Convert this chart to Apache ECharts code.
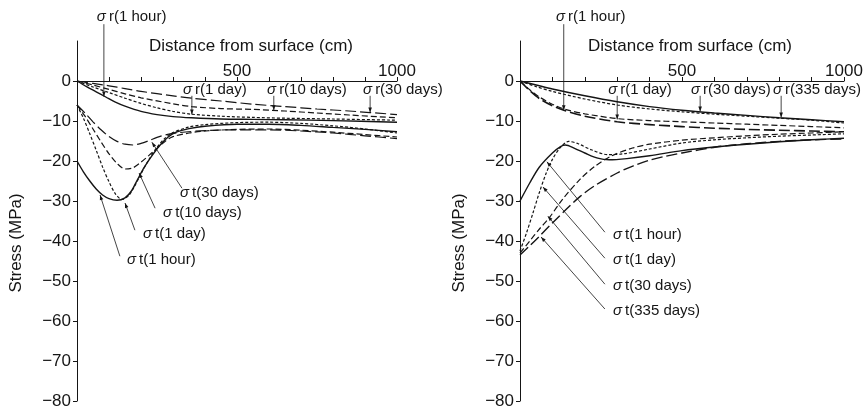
<!DOCTYPE html>
<html>
<head>
<meta charset="utf-8">
<script src="https://cdn.jsdelivr.net/npm/echarts@6/dist/echarts.min.js"></script>
<style>
  html, body { margin: 0; padding: 0; background: #fff; }
  #chart { width: 866px; height: 413px; }
</style>
</head>
<body>
<div id="chart"></div>
<script>
// ---- data: [distance (cm), stress (MPa)] ----
// left panel, radial stress
var leftR1h  = [[0,0],[30,-1.4],[60,-2.7],[90,-4],[120,-5.3],[150,-6.3],[200,-7.6],[250,-8.4],[300,-8.9],[358,-9.2],[450,-9.5],[550,-9.6],[650,-9.7],[800,-9.9],[1000,-10.3]];
var leftR1d  = [[0,0],[50,-1.5],[100,-2.9],[150,-4.3],[200,-5.6],[250,-6.7],[300,-7.6],[358,-8.3],[450,-8.8],[550,-9.1],[650,-9.3],[800,-9.5],[1000,-9.8]];
var leftR10d = [[0,0],[50,-1],[100,-2.1],[150,-3.2],[200,-4.2],[300,-5.7],[358,-6.4],[450,-6.9],[550,-7.1],[650,-7.5],[750,-8],[850,-8.5],[1000,-9.2]];
var leftR30d = [[0,0],[50,-0.6],[100,-1.2],[150,-1.9],[200,-2.6],[300,-3.7],[358,-4.3],[450,-5],[550,-5.8],[650,-6.4],[750,-7],[850,-7.5],[1000,-8.4]];
// left panel, tangential stress
var leftT1h  = [[0,-20],[20,-22.7],[40,-25],[60,-27],[80,-28.5],[100,-29.4],[125,-29.8],[150,-29.2],[170,-27.5],[190,-24.5],[210,-21.6],[235,-18.6],[260,-16],[285,-14],[310,-12.8],[350,-11.9],[400,-11.3],[500,-10.8],[600,-10.8],[700,-11.1],[800,-11.6],[900,-12.1],[1000,-12.7]];
var leftT1d  = [[0,-6],[20,-9.3],[40,-13.2],[60,-17.3],[80,-21.5],[100,-25.2],[120,-28.2],[140,-29.6],[160,-28.8],[180,-26.3],[200,-23.2],[225,-19.6],[250,-16.6],[275,-14.3],[300,-12.9],[350,-11.5],[400,-10.9],[500,-10.4],[600,-10.3],[700,-10.6],[800,-11.2],[900,-12],[1000,-13]];
var leftT10d = [[0,-6],[25,-8.8],[50,-12],[75,-15.2],[100,-18.2],[125,-20.6],[150,-22],[175,-21.7],[200,-20.3],[225,-18.6],[250,-16.8],[275,-15.1],[300,-13.9],[350,-13],[400,-12.5],[500,-12.1],[600,-12],[700,-12.3],[800,-12.8],[900,-13.4],[1000,-14]];
var leftT30d = [[0,-6],[25,-8],[50,-10.2],[75,-12.2],[100,-13.9],[125,-15.1],[150,-15.8],[175,-16],[200,-15.6],[225,-14.9],[250,-14.1],[280,-13.4],[320,-12.9],[400,-12.4],[500,-12.2],[600,-12.2],[700,-12.5],[800,-13],[900,-13.7],[1000,-14.4]];

// right panel, radial stress
var rightRTop1  = [[0,0],[50,-1],[100,-2],[200,-3.7],[300,-5.2],[400,-6.4],[500,-7.3],[600,-8],[700,-8.6],[800,-9.2],[900,-9.7],[1000,-10.2]];
var rightRTop2  = [[0,0],[50,-1.4],[100,-2.6],[200,-4.5],[300,-6],[400,-7],[500,-7.7],[600,-8.3],[700,-8.8],[800,-9.3],[900,-9.8],[1000,-10.5]];
var rightRLow1  = [[0,0],[30,-2.2],[60,-4],[100,-5.8],[140,-7.1],[200,-8.2],[300,-9.4],[400,-9.9],[500,-10.2],[600,-10.5],[700,-10.8],[800,-11.1],[900,-11.4],[1000,-11.7]];
var rightRLow2  = [[0,0],[30,-2.4],[60,-4.4],[100,-6.2],[135,-7.3],[200,-8.8],[300,-10.2],[400,-10.9],[500,-11.4],[600,-11.8],[700,-12.1],[800,-12.3],[900,-12.5],[1000,-12.7]];
// right panel, tangential stress
var rightT1h   = [[0,-30],[30,-25.5],[60,-21.5],[100,-18],[125,-16.4],[140,-16],[170,-16.9],[200,-18],[240,-19.3],[275,-19.7],[330,-19.4],[400,-18.7],[500,-17.4],[600,-16.5],[700,-15.8],[800,-15.2],[900,-14.7],[1000,-14.3]];
var rightT1d   = [[0,-42.5],[20,-38],[40,-33],[60,-27.8],[80,-23.2],[100,-19.6],[125,-16.6],[150,-15.1],[180,-15.7],[220,-17.2],[270,-18.4],[320,-18.2],[400,-17],[500,-15.5],[600,-14.7],[700,-14.2],[800,-13.8],[900,-13.5],[1000,-13.2]];
var rightT30d  = [[0,-43],[30,-40],[60,-37],[93,-33.9],[130,-29.7],[185,-24.6],[230,-21.4],[283,-18.7],[350,-16.7],[400,-15.8],[500,-14.8],[600,-14.2],[700,-13.7],[800,-13.3],[900,-13],[1000,-12.7]];
var rightT335d = [[0,-43.5],[30,-41.2],[60,-38.8],[100,-35.5],[150,-31.5],[185,-28.9],[230,-26.2],[300,-23],[350,-21.2],[400,-19.8],[450,-18.8],[500,-18],[605,-16.5],[700,-15.7],[800,-15.1],[900,-14.7],[1000,-14.5]];

var yTicks = [-80, -70, -60, -50, -40, -30, -20, -10, 0];
var xLabels = [500, 1000];

// annotations: [text, text x, text y, leader from x, y, leader to x, y]  (data units)
var leftNotes = [
  ['r(1 hour)',   62, 16,    84, 14.2,   84, -3.9],
  ['r(1 day)',   331, -2.25, 359, -3.7, 359, -8.4],
  ['r(10 days)', 594, -2.25, 615, -3.7, 615, -7.3],
  ['r(30 days)', 894, -2.25, 916, -3.7, 916, -7.9],
  ['t(30 days)', 322, -28,   328, -26.8, 234, -15.3],
  ['t(10 days)', 269, -33,   244, -31.8, 194, -23],
  ['t(1 day)',   206, -38.3, 181, -37.3, 150, -30.5],
  ['t(1 hour)',  156, -44.8, 134, -43.8,  72, -28.5]
];
var rightNotes = [
  ['r(1 hour)',   111, 16,   135, 14.2, 135, -7.3],
  ['r(1 day)',    272, -2.25, 300, -3.7, 300, -9.6],
  ['r(30 days)',  528, -2.25, 556, -3.7, 556, -7.6],
  ['r(335 days)', 781, -2.25, 806, -3.7, 806, -9.1],
  ['t(1 hour)',   287, -38.5, 262, -37.8, 83, -20.2],
  ['t(1 day)',    287, -44.8, 262, -44.3, 71, -26.5],
  ['t(30 days)',  287, -51.3, 262, -50.8, 86, -33.8],
  ['t(335 days)', 287, -57.5, 262, -57,   65, -39]
];

var ink = '#151515';
var font = 'Liberation Sans, Arial, Helvetica, sans-serif';
var SOLID = 'solid', SHORT = [3, 2], DASH = [6, 3], LONG = [11, 4];

function line(data, idx, type, width) {
  return {
    type: 'line', xAxisIndex: idx, yAxisIndex: idx, data: data,
    smooth: 0.3, showSymbol: false, silent: true,
    lineStyle: { color: ink, width: width || 1.2, type: type }
  };
}

// x axis sits on the zero line, 40px (10 MPa) below the grid top
function xAx(idx, pad) {
  return {
    type: 'value', gridIndex: idx, min: 0, max: 1000, interval: 100,
    position: 'top', offset: -40,
    name: 'Distance from surface (cm)', nameLocation: 'middle', nameGap: 26,
    nameTextStyle: { color: ink, fontSize: 17, fontFamily: font, padding: [0, 0, 0, pad] },
    axisLine: { onZero: false, lineStyle: { color: ink, width: 1 } },
    axisTick: { show: true, inside: false, length: 4, lineStyle: { color: ink } },
    axisLabel: {
      customValues: xLabels, color: ink, fontSize: 17, fontFamily: font, margin: 1,
      formatter: function (v) { return String(v); }
    },
    splitLine: { show: false }
  };
}

function yAx(idx) {
  return {
    type: 'value', gridIndex: idx, min: -80, max: 10, interval: 10,
    name: 'Stress (MPa)', nameLocation: 'middle', nameGap: 52,
    nameTextStyle: { color: ink, fontSize: 17, fontFamily: font, padding: [0, 44, 0, 0] },
    axisLine: { show: true, onZero: false, lineStyle: { color: ink, width: 1 } },
    axisTick: { show: true, customValues: yTicks, length: 4, lineStyle: { color: ink } },
    axisLabel: {
      customValues: yTicks, color: ink, fontSize: 17, fontFamily: font, margin: 6,
      formatter: function (v) { return v < 0 ? '\u2212' + (-v) : String(v); }
    },
    splitLine: { show: false }
  };
}

var chart = echarts.init(document.getElementById('chart'));
chart.setOption({
  animation: false,
  backgroundColor: '#fff',
  grid: [
    { left: 77, top: 41, width: 320, height: 360, outerBoundsMode: 'none' },
    { left: 520, top: 41, width: 324, height: 360, outerBoundsMode: 'none' }
  ],
  xAxis: [xAx(0, 28), xAx(1, 16)],
  yAxis: [yAx(0), yAx(1)],
  series: [
    line(leftR1h, 0, SOLID, 1.4), line(leftR1d, 0, SHORT), line(leftR10d, 0, DASH), line(leftR30d, 0, LONG),
    line(leftT1h, 0, SOLID, 1.4), line(leftT1d, 0, SHORT), line(leftT10d, 0, DASH), line(leftT30d, 0, LONG),
    line(rightRTop1, 1, SOLID, 1.4), line(rightRTop2, 1, SHORT), line(rightRLow1, 1, DASH), line(rightRLow2, 1, LONG, 1.6),
    line(rightT1h, 1, SOLID, 1.4), line(rightT1d, 1, SHORT), line(rightT30d, 1, DASH), line(rightT335d, 1, LONG, 1.4)
  ]
});

// leader lines and labels placed through the axes' own scales
var elems = [];
function addNotes(notes, gi) {
  notes.forEach(function (n) {
    var t = chart.convertToPixel({ gridIndex: gi }, [n[1], n[2]]);
    var a = chart.convertToPixel({ gridIndex: gi }, [n[3], n[4]]);
    var b = chart.convertToPixel({ gridIndex: gi }, [n[5], n[6]]);
    elems.push({
      type: 'text', x: t[0], y: t[1], silent: true,
      style: {
        text: '{s|\u03c3}\u2009' + n[0], fill: ink, font: '15px ' + font,
        textVerticalAlign: 'middle', verticalAlign: 'middle',
        rich: { s: { fontStyle: 'italic', fontSize: 15, fontFamily: font, fill: ink } }
      }
    });
    elems.push({
      type: 'line', silent: true,
      shape: { x1: a[0], y1: a[1], x2: b[0], y2: b[1] },
      style: { stroke: ink, lineWidth: 0.8 }
    });
    var dx = b[0] - a[0], dy = b[1] - a[1], len = Math.sqrt(dx * dx + dy * dy);
    var ux = dx / len, uy = dy / len, L = 5, W = 1.8;
    elems.push({
      type: 'polygon', silent: true,
      shape: { points: [
        [b[0], b[1]],
        [b[0] - ux * L - uy * W, b[1] - uy * L + ux * W],
        [b[0] - ux * L + uy * W, b[1] - uy * L - ux * W]
      ] },
      style: { fill: ink }
    });
  });
}
addNotes(leftNotes, 0);
addNotes(rightNotes, 1);
chart.setOption({ graphic: elems });
</script>
</body>
</html>
